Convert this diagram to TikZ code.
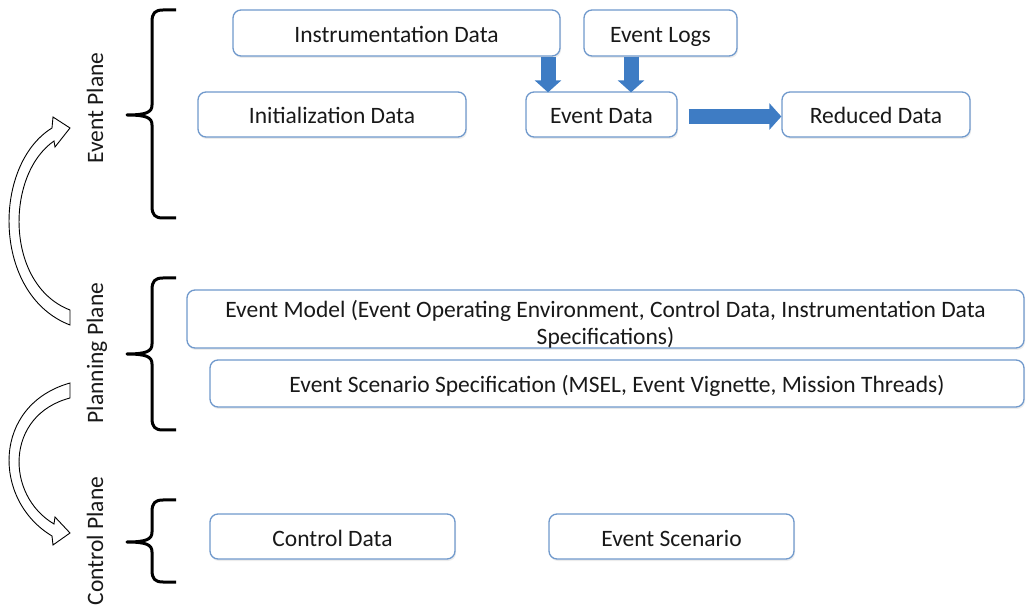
\documentclass[tikz,border=0pt]{standalone}
\usepackage{fontspec}
\setmainfont{Carlito}
\usetikzlibrary{arrows.meta,shadows}
\definecolor{boxblue}{RGB}{112,153,204}
\definecolor{arrblue}{RGB}{62,124,196}
\definecolor{txt}{RGB}{25,25,25}
\newcommand{\planebracket}[3]{%
  \draw[bracket] (176,#1) -- (163,#1) .. controls (155,#1) and (152,{#1+3}) .. (152,{#1+12})
    -- (152,{#2-10}) .. controls (152,{#2-3}) and (147,#2) .. (127,#2)
    .. controls (147,#2) and (152,{#2+3}) .. (152,{#2+10})
    -- (152,{#3-12}) .. controls (152,{#3-3}) and (155,#3) .. (163,#3) -- (176,#3);}
\begin{document}
\begin{tikzpicture}[x=1pt,y=-1pt,
  every node/.style={font=\fontsize{23.5}{27}\selectfont, text=txt},
  databox/.style={draw=boxblue, line width=1.3pt, rounded corners=8pt, fill=white, inner sep=0pt,
    text height=19pt, text depth=0pt,
    drop shadow={opacity=0.15, shadow xshift=1pt, shadow yshift=-2pt}},
  bigarrow/.style={draw=arrblue, line width=15pt, -{Triangle[length=12pt,width=26pt]}},
  bracket/.style={line width=3pt, black, line join=round},
  hollow/.style={draw=black, fill=white, line width=0.9pt, line join=miter}]
\path[use as bounding box] (0,0) rectangle (1026,609);

% boxes
\node[databox, minimum width=327pt, minimum height=46pt] (ins) at (396.5,33) {Instrumentation Data};
\node[databox, minimum width=153pt, minimum height=46pt] (logs) at (660.5,33) {Event Logs};
\node[databox, minimum width=268pt, minimum height=45pt] (init) at (332,114.5) {Initialization Data};
\node[databox, minimum width=151pt, minimum height=45pt] (evd) at (601.5,114.5) {Event Data};
\node[databox, minimum width=188pt, minimum height=45pt] (red) at (876,114.5) {Reduced Data};
\node[databox, text height=, text depth=, minimum width=837pt, minimum height=58pt] (model) at (605.5,319)
  {\raisebox{0pt}[16pt][18pt]{\begin{tabular}[t]{@{}c@{}}Event Model (Event Operating Environment, Control Data, Instrumentation Data\\Specifications)\end{tabular}}};
\node[databox, minimum width=814pt, minimum height=47pt] (scen) at (617,383.5)
  {Event Scenario Specification (MSEL, Event Vignette, Mission Threads)};
\node[databox, minimum width=245pt, minimum height=45pt] (ctrl) at (332.5,536.5) {Control Data};
\node[databox, minimum width=245pt, minimum height=45pt] (evs) at (671.5,536.5) {Event Scenario};

% blue arrows
\coordinate (c1) at (548,0);
\coordinate (c2) at (631,0);
\draw[bigarrow] (ins.south -| c1) -- ([yshift=-1pt]evd.north -| c1);
\draw[bigarrow] (logs.south -| c2) -- ([yshift=-1pt]evd.north -| c2);
\draw[bigarrow] ([xshift=11pt,yshift=-2pt]evd.east) -- ([yshift=-2pt]red.west);

% plane labels
\node[rotate=90, anchor=base] (lev) at (103,108) {Event Plane};
\node[rotate=90, anchor=base] (lpl) at (103,353) {Planning Plane};
\node[rotate=90, anchor=base] (lct) at (103,541) {Control Plane};

% brackets
\planebracket{10}{115}{218}
\planebracket{278}{354}{430}
\planebracket{500}{542}{582}

% hollow curved arrows
\draw[hollow] (70,325) -- (70,310) .. controls (5,285) and (5,175) .. (54,141)
  -- (55,147) -- (70,128) -- (53,117) -- (52,128)
  .. controls (-8,165) and (-8,295) .. (70,325) -- cycle;
\draw[hollow] (70,383) .. controls (-8,405) and (-8,500) .. (52,536)
  -- (53,545) -- (70,533) -- (55,517) -- (54,524)
  .. controls (5,495) and (5,415) .. (70,398) -- cycle;
\end{tikzpicture}
\end{document}
